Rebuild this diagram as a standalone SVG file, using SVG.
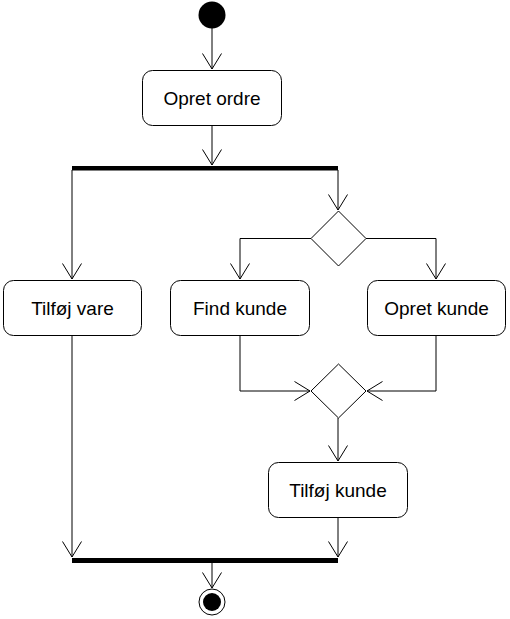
<svg xmlns="http://www.w3.org/2000/svg" width="510" height="619" viewBox="0 0 510 619">
<style>
.act{fill:#fff;stroke:#000;stroke-width:1}
.t{font-family:"Liberation Sans",Arial,sans-serif;font-size:19px;fill:#000;text-anchor:middle}
.c{fill:none;stroke:#000;stroke-width:1}
</style>
<defs>
<marker id="a" markerWidth="20" markerHeight="22" refX="16" refY="10" orient="auto" markerUnits="userSpaceOnUse">
<path d="M0.5,0.5 L16,10 L0.5,19.5" fill="none" stroke="#000" stroke-width="1"/>
</marker>
</defs>
<rect width="510" height="619" fill="#fff"/>
<g id="connectors">
<path class="c" d="M212,28 L212,69" marker-end="url(#a)"/>
<path class="c" d="M212,125 L212,165" marker-end="url(#a)"/>
<path class="c" d="M72,170 L72,279" marker-end="url(#a)"/>
<path class="c" d="M338,170 L338,210" marker-end="url(#a)"/>
<path class="c" d="M311,238.5 L240,238.5 L240,279" marker-end="url(#a)"/>
<path class="c" d="M366,238.5 L436,238.5 L436,279" marker-end="url(#a)"/>
<path class="c" d="M240,335 L240,391 L310,391" marker-end="url(#a)"/>
<path class="c" d="M436,335 L436,391 L367,391" marker-end="url(#a)"/>
<path class="c" d="M338,418 L338,461" marker-end="url(#a)"/>
<path class="c" d="M72,335 L72,557" marker-end="url(#a)"/>
<path class="c" d="M338,517 L338,557" marker-end="url(#a)"/>
<path class="c" d="M212,563 L212,588" marker-end="url(#a)"/>
</g>
<g id="start"><circle cx="212" cy="15" r="13.5" fill="#000"/></g>
<g id="opret-ordre"><rect class="act" x="142.5" y="70.5" width="139" height="55" rx="10"/><text class="t" x="212" y="104.5">Opret ordre</text></g>
<g id="fork"><rect x="72" y="166" width="266" height="4.5" fill="#000"/></g>
<g id="decision"><path class="act" d="M338.5,211 L366,238.5 L338.5,266 L311,238.5 Z"/></g>
<g id="tilfoej-vare"><rect class="act" x="3.5" y="280.5" width="138" height="55" rx="10"/><text class="t" x="72.5" y="314.5">Tilføj vare</text></g>
<g id="find-kunde"><rect class="act" x="170.5" y="280.5" width="139" height="55" rx="10"/><text class="t" x="240" y="314.5">Find kunde</text></g>
<g id="opret-kunde"><rect class="act" x="367.5" y="280.5" width="138" height="55" rx="10"/><text class="t" x="436.5" y="314.5">Opret kunde</text></g>
<g id="merge"><path class="act" d="M338.5,364 L366,391 L338.5,418 L311,391 Z"/></g>
<g id="tilfoej-kunde"><rect class="act" x="268.5" y="462.5" width="139" height="55" rx="10"/><text class="t" x="338" y="496.5">Tilføj kunde</text></g>
<g id="join"><rect x="72" y="558" width="266" height="5" fill="#000"/></g>
<g id="end"><circle cx="212" cy="602" r="13" fill="#fff" stroke="#000" stroke-width="1"/><circle cx="212" cy="602" r="9" fill="#000"/></g>
</svg>
